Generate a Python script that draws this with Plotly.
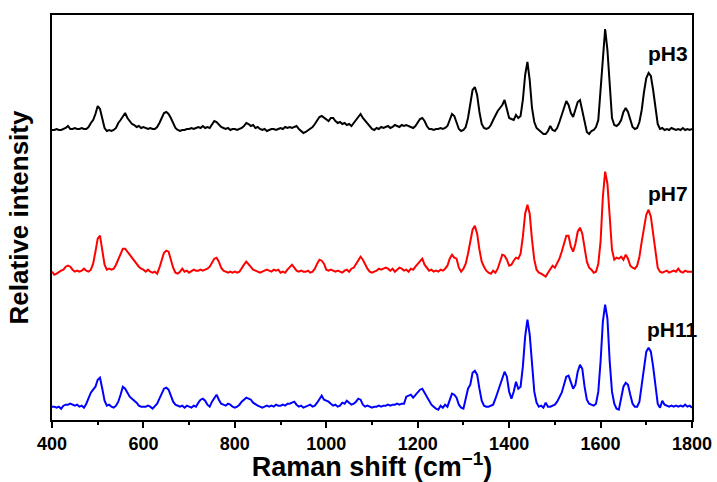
import plotly.graph_objects as go

# Raman shift grid (cm^-1), 5 cm^-1 steps from 400 to 1800
raman_shift = list(range(400, 1805, 5))

# Intensities above each spectrum's own baseline (arbitrary units)
ph3 = [
    0, 0, 1, 0, 0, 1, 2, 4, 1, 1, 2, 1, 1, 2, 1, 1, 3, 7, 10, 16,
    24, 21, 12, 2, -1, 0, -1, 0, 2, 7, 10, 14, 17, 12, 9, 6, 5, 3, 4, 2,
    3, 2, 1, 2, 1, 1, 3, 7, 12, 17, 18, 16, 12, 6, 2, 0, -1, 0, 0, 1,
    1, 2, 1, 2, 3, 2, 4, 2, 3, 2, 5, 9, 8, 5, 3, 2, 1, 2, 0, 1,
    1, 0, 1, 2, 4, 7, 6, 4, 5, 2, 3, 1, 0, 1, -1, 0, 1, 1, 0, 1,
    2, 1, 3, 2, 3, 2, 3, 4, 1, -1, -3, -2, 0, 2, 3, 6, 9, 13, 14, 12,
    10, 9, 12, 12, 9, 7, 8, 6, 7, 5, 6, 4, 7, 10, 14, 16, 12, 9, 6, 3,
    1, 0, 2, 1, 3, 2, 3, 4, 2, 3, 5, 4, 3, 5, 4, 5, 4, 3, 2, 4,
    8, 11, 12, 9, 4, 1, 1, 0, 1, 1, 2, 1, 2, 4, 10, 16, 14, 8, 1, -1,
    0, 3, 12, 26, 40, 43, 35, 18, 6, 2, 1, 2, 5, 10, 15, 19, 22, 25, 30, 20,
    12, 11, 10, 15, 12, 14, 30, 55, 68, 50, 22, 8, 2, 0, -2, -4, -4, -1, 4, 0,
    -1, 2, 8, 15, 24, 29, 25, 17, 13, 20, 28, 30, 20, 8, -2, -4, -1, 0, 3, 10,
    40, 80, 101, 80, 40, 12, 5, 4, 6, 10, 18, 22, 18, 10, 3, 1, 2, 8, 20, 38,
    52, 57, 54, 40, 20, 6, 1, 2, 0, 1, 0, 2, 1, 0, 1, 0, 2, 0, 1, 0,
    1,
]

ph7 = [
    0, -3, -2, 0, 1, 2, 5, 6, 5, 2, 0, 1, 0, 1, 3, 1, 0, 2, 8, 20,
    33, 36, 20, 7, 2, 3, 2, 3, 7, 13, 19, 23, 23, 20, 16, 13, 10, 8, 5, 3,
    2, 0, 2, 0, -1, 0, -2, 4, 12, 19, 21, 20, 12, 4, -1, -2, 0, 3, 0, 1,
    -1, 1, 2, 1, 1, 2, 1, 2, 3, 5, 9, 13, 14, 10, 4, 1, 0, -1, 0, -1,
    0, -1, 0, 4, 7, 10, 7, 4, 2, 1, 0, -1, 0, 1, 2, 1, 0, 2, 1, 2,
    -1, 0, -1, 2, 5, 7, 4, 1, 0, 1, 0, 0, 1, -1, 0, 3, 8, 12, 11, 8,
    2, 1, 2, 1, 0, 1, 0, -1, 1, 2, 0, 3, 4, 8, 12, 15, 12, 7, 3, 0,
    -1, 0, 1, 3, 2, 3, 4, 3, 1, 3, 0, 2, 4, 3, 1, 2, 0, 3, 2, 5,
    8, 11, 13, 7, 4, 1, 2, 0, 1, 0, 2, 1, 3, 6, 13, 17, 14, 13, 4, 0,
    3, 8, 18, 30, 42, 46, 38, 22, 10, 5, 1, -1, -2, 1, -1, 3, 10, 17, 16, 12,
    6, 7, 11, 14, 13, 18, 35, 58, 67, 58, 32, 12, 2, -1, -2, -4, -5, -1, 3, 6,
    4, 8, 13, 20, 28, 36, 36, 25, 20, 28, 40, 44, 38, 22, 10, 4, 2, -1, 0, 8,
    30, 75, 100, 88, 50, 22, 12, 14, 13, 15, 12, 17, 13, 6, 4, 3, 6, 15, 30, 45,
    57, 62, 55, 38, 18, 4, 0, -1, 0, 1, -1, 0, 1, 0, 3, 0, -1, 1, 0, 0,
    0,
]

ph11 = [
    0, 0, -1, 0, -2, 1, 2, 2, 3, 2, 1, 2, 0, 1, -1, 3, 8, 14, 17, 20,
    27, 29, 18, 6, 1, 2, 0, -1, 1, 5, 12, 20, 18, 14, 10, 8, 6, 4, 1, 0,
    0, 0, 1, 0, -2, 1, 3, 8, 13, 18, 19, 17, 11, 5, 2, 1, 0, 1, -1, 1,
    0, -1, 1, 0, 4, 7, 8, 6, 2, 0, 5, 9, 12, 7, 3, 2, 1, 3, 2, 0,
    -1, 0, 2, 5, 7, 9, 8, 7, 4, 2, 1, 0, -1, 0, 1, 0, 1, 0, 2, 1,
    1, 2, 1, 3, 3, 4, 5, 2, 0, 1, -1, 0, 1, 2, 0, 1, 4, 8, 11, 7,
    6, 5, 3, 1, 2, 0, 1, 4, 3, 6, 4, 2, 3, 5, 8, 7, 2, 0, 1, 0,
    -1, 0, 0, 1, 0, 1, 1, 2, 1, 2, 2, 3, 2, 3, 3, 10, 11, 12, 9, 12,
    14, 17, 18, 14, 9, 5, 2, 0, -2, -3, 1, -1, 2, 0, 6, 13, 12, 9, 2, -1,
    -2, 8, 18, 22, 34, 36, 32, 18, 6, 1, 0, 0, 1, 2, 8, 15, 22, 30, 35, 30,
    15, 8, 15, 25, 18, 20, 40, 70, 87, 72, 40, 15, 4, 0, 1, -1, 4, 0, 0, 1,
    2, 5, 10, 14, 22, 30, 31, 25, 18, 22, 35, 42, 38, 20, 7, 3, 2, 1, 3, 15,
    45, 85, 102, 88, 45, 15, 3, -2, -3, 8, 20, 24, 22, 12, 3, 0, 0, 5, 20, 40,
    55, 59, 55, 40, 18, 3, -1, 6, 2, 1, 0, 1, 0, 1, 0, 1, 0, 2, 0, 1,
    -1,
]

series_names = ["pH3", "pH7", "pH11"]
series_values = [ph3, ph7, ph11]
series_offsets = [290, 148.3, 13.3]
series_colors = ["#000000", "#ff0000", "#0000ff"]
label_y = [367, 227, 91]
label_x = [1747, 1747, 1758]

tick_vals = [400, 600, 800, 1000, 1200, 1400, 1600, 1800]
tick_text = ["400", "600", "800", "1000", "1200", "1400", "1600", "1800"]

FONT = "Liberation Sans, Arial, sans-serif"

fig = go.Figure()
for name, vals, off, col in zip(series_names, series_values, series_offsets, series_colors):
    fig.add_trace(go.Scatter(
        x=raman_shift, y=[v + off for v in vals], mode="lines", name=name,
        line=dict(color=col, width=2), showlegend=False,
    ))

for name, lx, ly in zip(series_names, label_x, label_y):
    fig.add_annotation(x=lx, y=ly, text="<b>%s</b>" % name, showarrow=False,
                       font=dict(family=FONT, size=21, color="#000"))

fig.update_layout(
    width=717, height=482,
    margin=dict(l=52, r=25, t=15, b=62),
    paper_bgcolor="white", plot_bgcolor="white",
    font=dict(family=FONT, color="#000"),
    xaxis=dict(
        range=[400, 1800], tickvals=tick_vals, ticktext=["<b>%s</b>" % t for t in tick_text],
        ticks="outside", ticklen=6, tickwidth=2, tickcolor="#000",
        minor=dict(dtick=100, ticks="outside", ticklen=3, tickwidth=1.5, tickcolor="#000"),
        showline=True, linewidth=2, linecolor="#000", mirror=True,
        showgrid=False, zeroline=False, automargin=False,
        tickfont=dict(size=18, family=FONT, color="#000"),
        title=dict(text="<b>Raman shift (cm<sup>−1</sup>)</b>", standoff=2,
                   font=dict(size=27, family=FONT, color="#000")),
    ),
    yaxis=dict(
        range=[0, 405], showticklabels=False, ticks="",
        showline=True, linewidth=2, linecolor="#000", mirror=True,
        showgrid=False, zeroline=False, automargin=False,
        title=dict(text="<b>Relative intensity</b>", standoff=14,
                   font=dict(size=26, family=FONT, color="#000")),
    ),
)

fig.write_html("out.html", config={"displayModeBar": False},
               post_script="document.body.style.margin='0';")
